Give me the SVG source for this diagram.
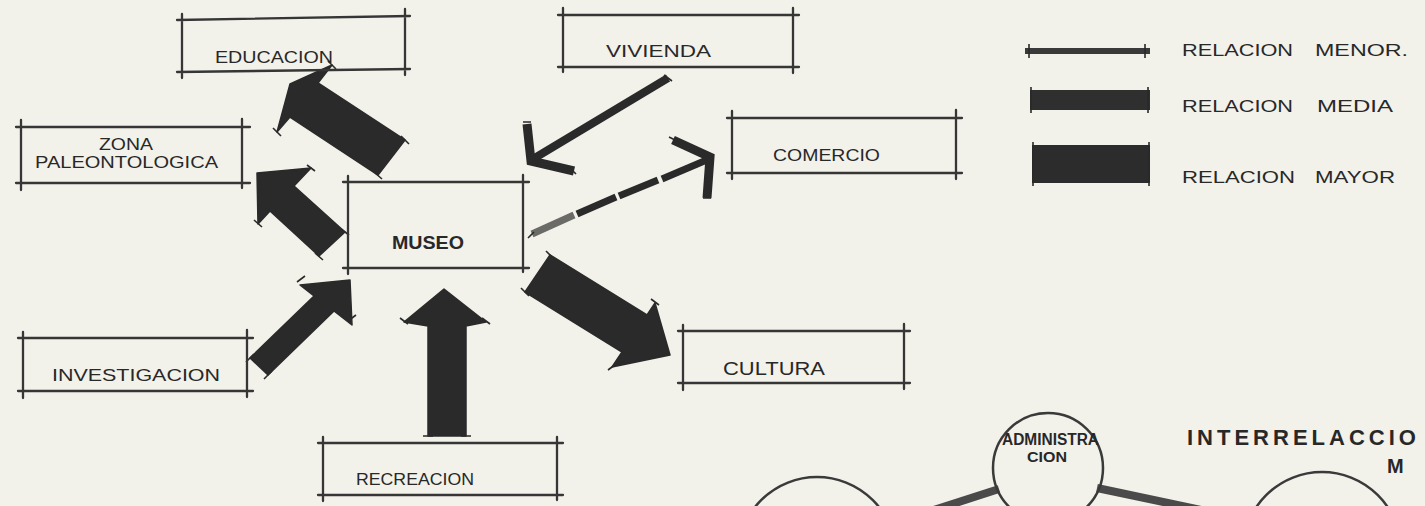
<svg xmlns="http://www.w3.org/2000/svg" width="1425" height="506" viewBox="0 0 1425 506">
<defs>
<style>
.bg{fill:#f2f1ea}
.box{stroke:#363636;stroke-width:2.3;fill:none;stroke-linecap:round}
.lbl{font-family:"Liberation Sans",Arial,sans-serif;fill:#282828}
.b{font-weight:bold}
.arr{fill:#2a2a2a;stroke:#2a2a2a;stroke-width:1.5;stroke-linejoin:round}
.tick{stroke:#2a2a2a;stroke-width:1.6;fill:none}
.thin{stroke:#2a2a2a;stroke-width:8;fill:none;stroke-linecap:butt}
.head{stroke:#2a2a2a;stroke-width:9;fill:none;stroke-linejoin:miter;stroke-linecap:butt}
.circ{stroke:#3a3a3a;stroke-width:2.5;fill:none}
.link{stroke:#4a4a4a;stroke-width:8;stroke-linecap:butt}
</style>
</defs>
<rect class="bg" x="0" y="0" width="1425" height="506"/>

<g id="connectors">
  <polygon class="arr" points="405,140 318,83 332,65 290,84 277,132 290,117 378,175"/>
  <polygon class="arr" points="345,232 294,186 311,168 257,173 258,224 270,211 319,256"/>
  <polygon class="arr" points="250,358 314,296 300,285 350,280 352,325 334,311 268,375"/>
  <polygon class="arr" points="428,436 428,326 404,322 444,289 486,322 466,326 466,436"/>
  <polygon class="arr" points="550,255 647,315 655,303 670,355 612,367 622,352 525,292"/>
  <line class="thin" x1="668" y1="78" x2="533" y2="159"/>
  <polyline class="head" points="527,124 531,161 574,171"/>
  <line class="thin" x1="532" y1="234" x2="574" y2="215" style="stroke:#6a6a66;stroke-width:7"/>
  <line class="thin" x1="577" y1="214" x2="616" y2="197" style="stroke-width:7"/>
  <line class="thin" x1="619" y1="196" x2="658" y2="180" style="stroke-width:7"/>
  <line class="thin" x1="662" y1="179" x2="709" y2="159" style="stroke-width:7"/>
  <polyline class="head" points="673,140 710,157 707,198"/>
  <path class="tick" d="M401,136 l8,8 M374,172 l8,7 M328,61 l8,8 M273,128 l8,8 M341,229 l8,6 M315,253 l8,7 M307,165 l8,6 M254,220 l8,7 M246,362 l8,-8 M264,379 l8,-8 M297,282 l8,-6 M348,321 l8,-6 M423,436 h10 M461,436 h10 M400,318 l8,6 M482,318 l8,6 M546,251 l8,8 M521,288 l8,8 M651,299 l8,6 M608,370 l8,-6 M664,75 l8,6 M523,122 h8 M570,168 l6,6 M528,238 l6,-6 M669,137 l8,4 M703,198 h8"/>
  <line class="link" x1="999" y1="489" x2="878" y2="528"/>
  <line class="link" x1="1097" y1="488" x2="1258" y2="522"/>
</g>

<g id="educacion">
  <path class="box" d="M177,20 L410,16 M177,72 L410,69 M182,14 V78 M405,9 V75"/>
  <text class="lbl" x="215" y="63" font-size="16" textLength="118" lengthAdjust="spacingAndGlyphs">EDUCACION</text>
</g>
<g id="zona-paleontologica">
  <path class="box" d="M16,127 H250 M16,183 H250 M21,120 V190 M242,119 V188"/>
  <text class="lbl" x="99" y="150" font-size="16" textLength="54" lengthAdjust="spacingAndGlyphs">ZONA</text>
  <text class="lbl" x="35" y="168" font-size="16" textLength="183" lengthAdjust="spacingAndGlyphs">PALEONTOLOGICA</text>
</g>
<g id="museo">
  <path class="box" d="M343,182 H529 M343,268 H529 M348,176 V274 M523,175 V272"/>
  <text class="lbl b" x="392" y="249" font-size="18" textLength="72" lengthAdjust="spacingAndGlyphs">MUSEO</text>
</g>
<g id="vivienda">
  <path class="box" d="M558,15 H799 M558,67 H799 M563,8 V72 M793,8 V73"/>
  <text class="lbl" x="606" y="57" font-size="17" textLength="105" lengthAdjust="spacingAndGlyphs">VIVIENDA</text>
</g>
<g id="comercio">
  <path class="box" d="M727,118 H962 M727,173 H962 M732,111 V179 M956,110 V179"/>
  <text class="lbl" x="773" y="161" font-size="17" textLength="107" lengthAdjust="spacingAndGlyphs">COMERCIO</text>
</g>
<g id="investigacion">
  <path class="box" d="M18,338 H253 M18,391 H253 M23,332 V398 M247,330 V397"/>
  <text class="lbl" x="52" y="381" font-size="17" textLength="168" lengthAdjust="spacingAndGlyphs">INVESTIGACION</text>
</g>
<g id="cultura">
  <path class="box" d="M678,331 H910 M678,383 H910 M683,325 V390 M904,324 V389"/>
  <text class="lbl" x="723" y="375" font-size="18" textLength="102" lengthAdjust="spacingAndGlyphs">CULTURA</text>
</g>
<g id="recreacion">
  <path class="box" d="M318,443 H563 M318,495 H563 M323,437 V501 M557,437 V500"/>
  <text class="lbl" x="356" y="485" font-size="17" textLength="118" lengthAdjust="spacingAndGlyphs">RECREACION</text>
</g>

<g id="legend">
  <rect x="1025" y="48" width="125" height="6" fill="#3a3a3a"/>
  <rect x="1030" y="90" width="120" height="20" fill="#2f2f2f"/>
  <rect x="1032" y="145" width="118" height="38" fill="#2c2c2c"/>
  <path class="tick" d="M1029,44 V58 M1145,44 V58 M1031,87 V113 M1148,87 V113 M1033,142 V186 M1149,142 V186"/>
  <text class="lbl" y="56" font-size="17"><tspan x="1182" textLength="111" lengthAdjust="spacingAndGlyphs">RELACION</tspan><tspan x="1315" textLength="93" lengthAdjust="spacingAndGlyphs">MENOR.</tspan></text>
  <text class="lbl" y="112" font-size="17"><tspan x="1182" textLength="111" lengthAdjust="spacingAndGlyphs">RELACION</tspan><tspan x="1317" textLength="76" lengthAdjust="spacingAndGlyphs">MEDIA</tspan></text>
  <text class="lbl" y="183" font-size="17"><tspan x="1182" textLength="113" lengthAdjust="spacingAndGlyphs">RELACION</tspan><tspan x="1315" textLength="80" lengthAdjust="spacingAndGlyphs">MAYOR</tspan></text>
</g>

<g id="circle-left">
  <circle class="circ" cx="817" cy="556" r="79"/>
</g>
<g id="administracion">
  <circle class="circ" cx="1048" cy="468" r="55"/>
  <text class="lbl b" x="1002" y="445" font-size="16" textLength="97" lengthAdjust="spacingAndGlyphs">ADMINISTRA</text>
  <text class="lbl b" x="1027" y="462" font-size="15" textLength="40" lengthAdjust="spacingAndGlyphs">CION</text>
</g>
<g id="circle-right">
  <circle class="circ" cx="1322" cy="551" r="79"/>
</g>
<g id="title">
  <text class="lbl b" x="1187" y="445" font-size="22" letter-spacing="4">INTERRELACCIO</text>
  <text class="lbl b" x="1387" y="473" font-size="20">M</text>
</g>
</svg>
